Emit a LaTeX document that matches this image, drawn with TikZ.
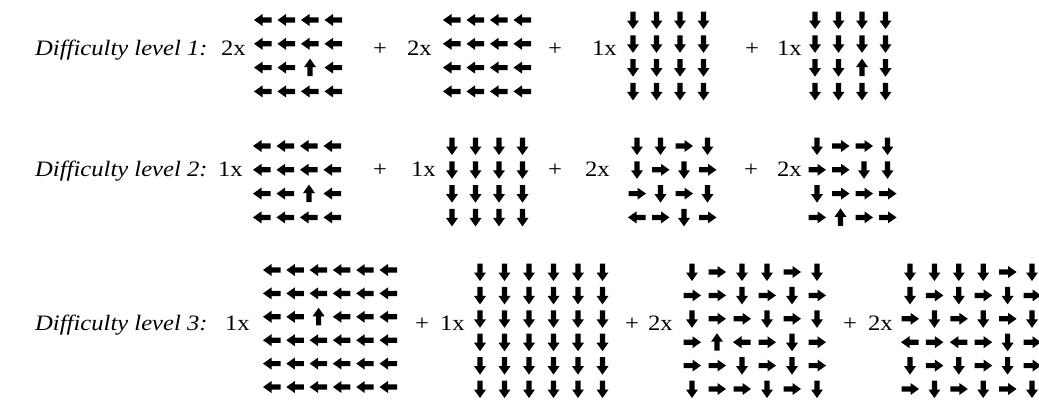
\documentclass[tikz,border=0pt]{standalone}
\usepackage{fontspec}
\setmainfont{Liberation Serif}[FakeStretch=1.12]
\usepackage{tikz}

% grid of block arrows: x0, y0, columns, dx, dy, list of angles
\newcommand{\arrgrid}[6]{%
  \foreach \a [count=\k from 0] in {#6} {
    \pgfmathsetmacro{\cx}{#1 + mod(\k,#3)*#4}
    \pgfmathsetmacro{\cy}{#2 + floor(\k/#3)*#5}
    \fill[shift={(\cx,\cy)}, rotate=\a] (-8.5,-2.6) -- (0.5,-2.6) -- (0.5,-6) -- (9,0)
      -- (0.5,6) -- (0.5,2.6) -- (-8.5,2.6) -- cycle;
  }}

\begin{document}
\begin{tikzpicture}[
    x=1pt, y=-1pt, % pixel units, y going down
    txt/.style={inner sep=0pt, font=\fontsize{22}{26}\selectfont}, % base text
    lvl/.style={txt, anchor=base west, font=\fontsize{22}{26}\selectfont\itshape}, % level labels
    cnt/.style={txt, anchor=base east}, % 1x, 2x
    plus/.style={txt, anchor=base} % + signs
]
    \useasboundingbox (0,0) rectangle (1039,399);

    % Level labels
    \node[lvl] (lab1) at (35,55) {Difficulty level 1:};
    \node[lvl] (lab2) at (35,176) {Difficulty level 2:};
    \node[lvl] (lab3) at (35,330) {Difficulty level 3:};

    % Level 1
    \node[cnt] (n11) at (246,55) {2x};
    \node[plus] (p11) at (380,55) {+};
    \node[cnt] (n12) at (432,55) {2x};
    \node[plus] (p12) at (555,55) {+};
    \node[cnt] (n13) at (617,55) {1x};
    \node[plus] (p13) at (752,55) {+};
    \node[cnt] (n14) at (802,55) {1x};
    \arrgrid{263}{20}{4}{23.5}{23.8}{180,180,180,180, 180,180,180,180, 180,180,90,180, 180,180,180,180}
    \arrgrid{452}{20}{4}{23.5}{23.8}{180,180,180,180, 180,180,180,180, 180,180,180,180, 180,180,180,180}
    \arrgrid{633}{20}{4}{23.5}{23.8}{270,270,270,270, 270,270,270,270, 270,270,270,270, 270,270,270,270}
    \arrgrid{815}{20}{4}{23.5}{23.8}{270,270,270,270, 270,270,270,270, 270,270,90,270, 270,270,270,270}

    % Level 2
    \node[cnt] (n21) at (243,176) {1x};
    \node[plus] (p21) at (380,176) {+};
    \node[cnt] (n22) at (436,176) {1x};
    \node[plus] (p22) at (555,176) {+};
    \node[cnt] (n23) at (610,176) {2x};
    \node[plus] (p23) at (751,176) {+};
    \node[cnt] (n24) at (802,176) {2x};
    \arrgrid{262}{146}{4}{23.5}{23.8}{180,180,180,180, 180,180,180,180, 180,180,90,180, 180,180,180,180}
    \arrgrid{452}{146}{4}{23.5}{23.8}{270,270,270,270, 270,270,270,270, 270,270,270,270, 270,270,270,270}
    \arrgrid{637}{146}{4}{23.5}{23.8}{270,270,0,270, 270,0,270,0, 0,270,0,270, 180,0,270,0}
    \arrgrid{817}{146}{4}{23.5}{23.8}{270,0,0,270, 0,0,270,270, 270,0,0,0, 0,90,0,0}

    % Level 3
    \node[cnt] (n31) at (250,330) {1x};
    \node[plus] (p31) at (422,330) {+};
    \node[cnt] (n32) at (465,330) {1x};
    \node[plus] (p32) at (632,330) {+};
    \node[cnt] (n33) at (673,330) {2x};
    \node[plus] (p33) at (850,330) {+};
    \node[cnt] (n34) at (893,330) {2x};
    \arrgrid{272}{270}{6}{23.3}{23.4}{180,180,180,180,180,180, 180,180,180,180,180,180,
      180,180,90,180,180,180, 180,180,180,180,180,180, 180,180,180,180,180,180,
      180,180,180,180,180,180}
    \arrgrid{480}{272}{6}{24.5}{23.4}{270,270,270,270,270,270, 270,270,270,270,270,270,
      270,270,270,270,270,270, 270,270,270,270,270,270, 270,270,270,270,270,270,
      270,270,270,270,270,270}
    \arrgrid{692}{272}{6}{25}{23.4}{270,0,270,270,0,270, 0,0,270,0,270,0,
      270,0,0,270,0,270, 0,90,180,0,270,0, 0,0,270,0,270,0,
      270,0,0,270,0,270}
    \arrgrid{910}{272}{6}{24.4}{23.4}{270,270,270,270,0,270, 270,0,270,0,270,0,
      0,270,0,270,0,270, 180,0,180,0,270,0, 270,0,270,0,270,0,
      0,270,0,270,0,270}

\end{tikzpicture}
\end{document}
